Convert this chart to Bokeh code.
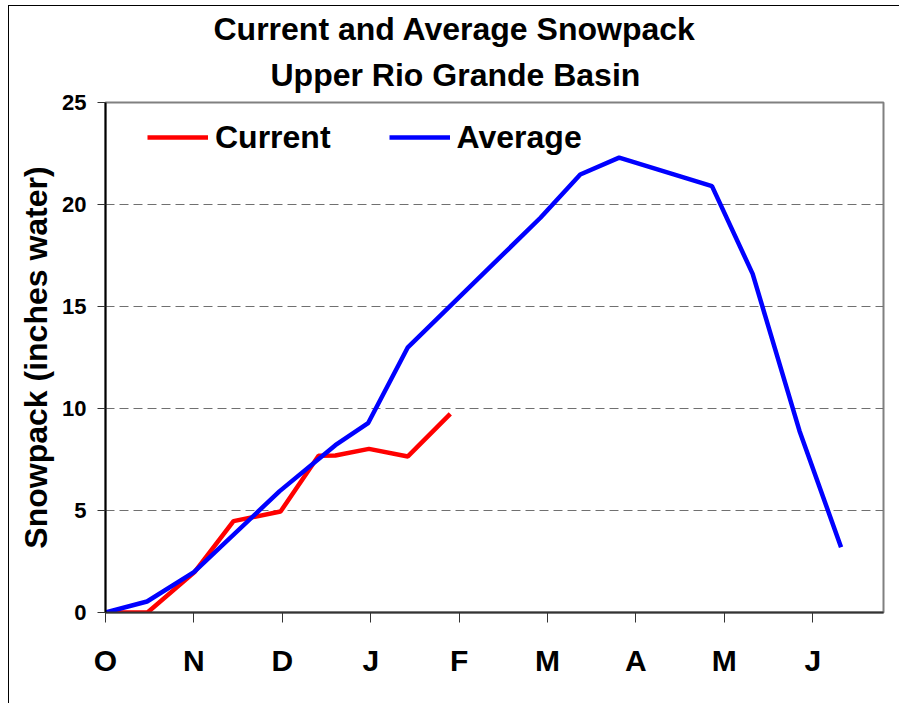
from bokeh.plotting import figure
from bokeh.models import Range1d, FixedTicker, Legend, LegendItem, Title
from bokeh.embed import file_html
from bokeh.resources import INLINE

# ---- data (months since Oct 1; snowpack in inches of water) ----
month_ticks = [0, 1, 2, 3, 4, 5, 6, 7, 8]
month_labels = ["O", "N", "D", "J", "F", "M", "A", "M", "J"]
y_ticks = [0, 5, 10, 15, 20, 25]

current_x = [0.0, 0.475, 1.007, 1.448, 1.98, 2.41, 2.60, 2.98, 3.42, 3.90]
current_y = [0.0, 0.0, 1.98, 4.48, 4.95, 7.68, 7.70, 8.02, 7.65, 9.74]

average_x = [0.0, 0.47, 1.0, 1.97, 2.60, 2.97, 3.42, 4.92, 5.37, 5.81, 6.86, 7.32, 7.85, 8.32]
average_y = [0.0, 0.54, 1.98, 5.95, 8.20, 9.28, 13.0, 19.35, 21.47, 22.3, 20.9, 16.6, 8.9, 3.2]

title_line1 = "Current and Average Snowpack"
title_line2 = "Upper Rio Grande Basin"
y_label = "Snowpack (inches water)"

FONT = "Liberation Sans"

p = figure(width=891, height=698, x_range=Range1d(0, 8.8), y_range=Range1d(0, 25),
           output_backend="svg", toolbar_location=None, title=None,
           min_border_left=96, min_border_right=17, min_border_top=96, min_border_bottom=92)
p.styles = {"margin-left": "8px", "margin-top": "5px",
            "border-left": "1px solid black", "border-top": "1px solid black"}

r_cur = p.line(current_x, current_y, line_color="#ff0000", line_width=4.5)
r_avg = p.line(average_x, average_y, line_color="#0000ff", line_width=4.5)

# axes
p.xaxis.ticker = FixedTicker(ticks=month_ticks)
p.xaxis.major_label_overrides = {t: l for t, l in zip(month_ticks, month_labels)}
p.xaxis.minor_tick_line_color = None
p.xaxis.major_tick_in = 0
p.xaxis.major_tick_out = 10
p.xaxis.axis_line_color = "#333333"
p.xaxis.axis_line_width = 2
p.xaxis.major_tick_line_color = "#333333"
p.xaxis.major_label_text_font = FONT
p.xaxis.major_label_text_font_style = "bold"
p.xaxis.major_label_text_font_size = "30px"
p.xaxis.major_label_text_color = "black"
p.xaxis.major_label_standoff = 21

p.yaxis.ticker = FixedTicker(ticks=y_ticks)
p.yaxis.minor_tick_line_color = None
p.yaxis.major_tick_in = 0
p.yaxis.major_tick_out = 8
p.yaxis.axis_line_color = "black"
p.yaxis.axis_line_width = 2
p.yaxis.major_tick_line_color = "#333333"
p.yaxis.major_label_text_font = FONT
p.yaxis.major_label_text_font_style = "bold"
p.yaxis.major_label_text_font_size = "22px"
p.yaxis.major_label_text_color = "black"
p.yaxis.major_label_standoff = 11
p.yaxis.axis_label = y_label
p.yaxis.axis_label_text_font = FONT
p.yaxis.axis_label_text_font_style = "bold"
p.yaxis.axis_label_text_font_size = "32px"
p.yaxis.axis_label_text_color = "black"
p.yaxis.axis_label_standoff = 5

# grid
p.xgrid.visible = False
p.ygrid.ticker = FixedTicker(ticks=[5, 10, 15, 20])
p.ygrid.grid_line_color = "#707070"
p.ygrid.grid_line_dash = "9 5"
p.ygrid.grid_line_width = 1

p.outline_line_color = "#808080"
p.outline_line_width = 2

# title (second line nearest to the frame is added first)
p.add_layout(Title(text=title_line2, align="left", offset=165, standoff=20,
                   text_font=FONT, text_font_style="bold", text_font_size="32px",
                   text_color="black"), "above")
p.add_layout(Title(text=title_line1, align="left", offset=108, standoff=-5,
                   text_font=FONT, text_font_style="bold", text_font_size="32px",
                   text_color="black"), "above")

legend = Legend(items=[LegendItem(label="Current", renderers=[r_cur]),
                       LegendItem(label="Average", renderers=[r_avg])],
                orientation="horizontal", location=(42, 456),
                border_line_color=None, background_fill_alpha=0,
                padding=0, margin=0, spacing=58,
                glyph_width=61, glyph_height=38, label_standoff=7, label_height=38,
                label_text_font=FONT, label_text_font_style="bold",
                label_text_font_size="32px", label_text_color="black")
p.add_layout(legend)

open("out.html", "w").write(file_html(p, INLINE))
